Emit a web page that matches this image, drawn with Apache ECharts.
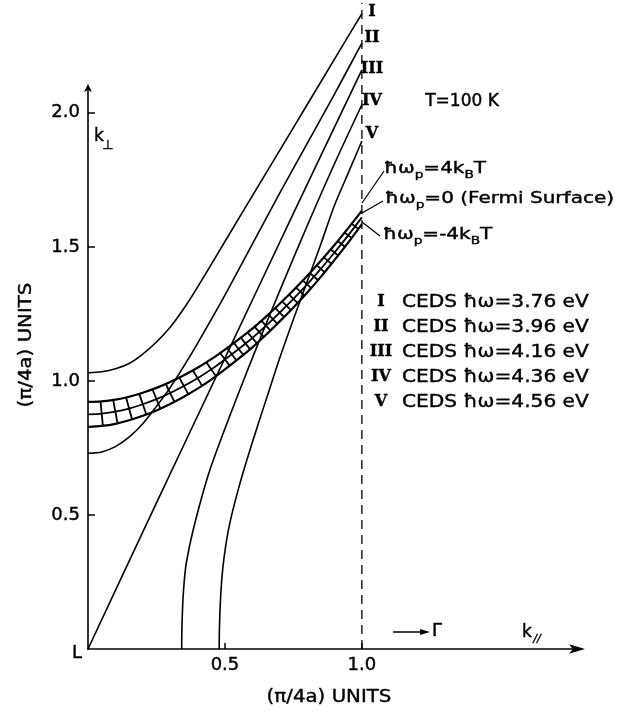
<!DOCTYPE html>
<html lang="en">
<head>
<meta charset="UTF-8">
<title>CEDS k-space contours</title>
<style>
html,body{margin:0;padding:0;background:#fff;}
#chart{width:627px;height:712px;}
</style>
</head>
<body>
<div id="chart"></div>
<script src="https://cdn.jsdelivr.net/npm/echarts@6/dist/echarts.min.js"></script>
<script>
// k_parallel, k_perp in (pi/4a) units
var curveI = [[0,1.03],[0.05,1.034],[0.1,1.045],[0.15,1.065],[0.2,1.1],[0.25,1.145],[0.3,1.2],[0.35,1.27],[0.4,1.35],[0.5,1.52],[0.6,1.69],[0.7,1.86],[0.8,2.03],[0.9,2.2],[1.0,2.37]];
var curveII = [[0,0.73],[0.05,0.735],[0.1,0.755],[0.15,0.79],[0.2,0.84],[0.25,0.905],[0.3,0.975],[0.35,1.055],[0.4,1.14],[0.5,1.32],[0.6,1.51],[0.7,1.7],[0.8,1.885],[0.9,2.07],[1.0,2.26]];
var curveIII = [[0,0],[0.25,0.545],[0.5,1.085],[0.75,1.625],[1.0,2.16]];
var curveIV = [[0.342,0],[0.343,0.08],[0.347,0.19],[0.356,0.3],[0.37,0.38],[0.384,0.444],[0.415,0.565],[0.445,0.668],[0.5,0.822],[0.55,0.955],[0.6,1.085],[0.65,1.212],[0.7,1.336],[0.8,1.578],[0.9,1.81],[1.0,2.03]];
var curveV = [[0.479,0],[0.48,0.08],[0.484,0.19],[0.492,0.3],[0.505,0.4],[0.52,0.48],[0.55,0.6],[0.58,0.705],[0.62,0.835],[0.66,0.96],[0.7,1.085],[0.75,1.23],[0.8,1.37],[0.85,1.51],[0.9,1.655],[0.95,1.775],[1.0,1.895]];

// band of hbar*omega_p = +4kT, 0, -4kT
var bandX   = [0,0.05,0.1,0.15,0.2,0.25,0.3,0.35,0.4,0.45,0.5,0.55,0.6,0.65,0.7,0.75,0.8,0.85,0.9,0.95,1.0];
var bandTop = [0.922,0.924,0.930,0.941,0.956,0.974,0.996,1.021,1.049,1.081,1.117,1.155,1.195,1.240,1.288,1.338,1.391,1.448,1.507,1.570,1.635];
var bandMid = [0.875,0.878,0.885,0.897,0.913,0.932,0.955,0.981,1.010,1.043,1.080,1.119,1.160,1.206,1.255,1.306,1.360,1.418,1.479,1.543,1.610];
var bandBot = [0.828,0.832,0.840,0.853,0.870,0.890,0.914,0.941,0.971,1.005,1.043,1.083,1.125,1.172,1.222,1.274,1.329,1.388,1.451,1.516,1.585];

var zoneEdge = [[1.0,0],[1.0,2.41]];
var xTicks = [0.5,1.0];
var yTicks = [0.5,1.0,1.5,2.0];
var numerals = ['I','II','III','IV','V'];
var photonEnergy = ['3.76','3.96','4.16','4.36','4.56'];

var chart = echarts.init(document.getElementById('chart'));
var FONT = '"DejaVu Sans", sans-serif';
var SERIF = '"DejaVu Serif", serif';

function curve(d){
	return {
		type:'line', data:d, smooth:0.3, symbol:'none', clip:false,
		lineStyle:{color:'#000', width:1.6}, silent:true, animation:false
	};
}
function bandLine(vals){
	return curve(bandX.map(function(x,i){ return [x, vals[i]]; }));
}

var series = [curve(curveI), curve(curveII), curve(curveIII), curve(curveIV), curve(curveV),
	bandLine(bandTop), bandLine(bandMid), bandLine(bandBot)];
series[5].lineStyle.width = 2.2;
series[6].lineStyle.width = 1.8;
series[7].lineStyle.width = 2.2;

// cross hatching of the band
series.push({
	type:'custom', silent:true, animation:false,
	data: bandX.map(function(x,i){ return [x, bandMid[i], i]; }),
	renderItem:function(params, api){
		var i = api.value(2), n = bandX.length;
		if (i === 0 || i === n-1) return null;
		function seg(cx, cy, tx, ty, h){
			var len = Math.sqrt(tx*tx+ty*ty); tx/=len; ty/=len;
			var nx = -ty, ny = tx;
			if (ny < 0){ nx=-nx; ny=-ny; }
			return {type:'line', shape:{x1:cx-nx*h, y1:cy-ny*h, x2:cx+nx*h, y2:cy+ny*h},
				style:{stroke:'#000', lineWidth:1.8}};
		}
		var kids = [];
		var p0 = api.coord([bandX[i-1], bandMid[i-1]]);
		var p1 = api.coord([bandX[i+1], bandMid[i+1]]);
		var c = api.coord([bandX[i], bandMid[i]]);
		var t = api.coord([bandX[i], bandTop[i]]);
		var b = api.coord([bandX[i], bandBot[i]]);
		var tx = p1[0]-p0[0], ty = p1[1]-p0[1];
		var cosA = Math.abs(tx)/Math.sqrt(tx*tx+ty*ty);
		kids.push(seg(c[0], c[1], tx, ty, (b[1]-t[1])/2*cosA));
		if (bandX[i] >= 0.5){
			var c2 = api.coord([bandX[i+1], bandMid[i+1]]);
			var t2 = api.coord([bandX[i+1], bandTop[i+1]]);
			var b2 = api.coord([bandX[i+1], bandBot[i+1]]);
			kids.push(seg((c[0]+c2[0])/2, (c[1]+c2[1])/2, c2[0]-c[0], c2[1]-c[1],
				((b[1]-t[1])+(b2[1]-t2[1]))/4*cosA));
		}
		return {type:'group', children:kids};
	}
});

// zone boundary at k_parallel = 1
series.push({
	type:'line', data:zoneEdge, symbol:'none', clip:false, silent:true, animation:false,
	lineStyle:{color:'#000', width:1.3, type:[9,6]}
});

var txt = [];
function label(x, y, text, font, opt){
	var o = {type:'text', x:x, y:y, silent:true,
		style:{text:text, font:font, fill:'#000', stroke:'#000', lineWidth:0.4,
			align:'center', verticalAlign:'middle'}};
	if (opt) for (var k in opt){ if (k === 'style') Object.assign(o.style, opt.style); else o[k] = opt[k]; }
	txt.push(o);
}
// numerals at curve ends
var endY = [12, 38, 69, 101, 134];
numerals.forEach(function(r,i){ label(372, endY[i], r, 'bold 16px ' + SERIF); });
// legend rows
var rowY = [302, 327, 352, 377, 402];
numerals.forEach(function(r,i){
	label(381, rowY[i], r, 'bold 16px ' + SERIF);
	label(402, rowY[i], 'CEDS ħω=' + photonEnergy[i] + ' eV', '18px ' + FONT,
		{scaleX:1.12, style:{align:'left'}});
});
label(462, 102, 'T=100 K', '17px ' + FONT);
var rich = {
	n:{font:'16px ' + FONT, lineHeight:24},
	s:{font:'11px ' + FONT, verticalAlign:'bottom'}
};
label(384, 169, '{n|ħω}{s|p}{n|=4k}{s|B}{n|T}', '16px ' + FONT, {scaleX:1.25, style:{align:'left', rich:rich}});
label(385, 199, '{n|ħω}{s|p}{n|=0 (Fermi Surface)}', '16px ' + FONT, {scaleX:1.25, style:{align:'left', rich:rich}});
label(383, 235, '{n|ħω}{s|p}{n|=-4k}{s|B}{n|T}', '16px ' + FONT, {scaleX:1.25, style:{align:'left', rich:rich}});
// axis annotations
label(77, 653, 'L', '18px ' + FONT);
label(99, 137, 'k', '17px ' + FONT);
label(108, 146, '⊥', '13px ' + FONT);
label(527, 633, 'k', '17px ' + FONT);
label(537, 639, '//', 'italic 11px ' + FONT);
label(437, 631, 'Γ', '18px ' + FONT);
label(329, 697, '(π/4a) UNITS', '18px ' + FONT, {scaleX:1.1});
label(26, 345, '(π/4a) UNITS', '18px ' + FONT, {scaleX:1.1, rotation:Math.PI/2});

var leaders = [[362,203,384,171],[362,213,383,201],[362,222,380,236]];
leaders.forEach(function(l){
	txt.push({type:'line', silent:true, shape:{x1:l[0],y1:l[1],x2:l[2],y2:l[3]}, style:{stroke:'#000', lineWidth:1.2}});
});
txt.push({type:'line', silent:true, shape:{x1:393,y1:632,x2:422,y2:632}, style:{stroke:'#000', lineWidth:1.5}});
txt.push({type:'polygon', silent:true, shape:{points:[[420,629],[430,632],[420,635]]}, style:{fill:'#000'}});

var tickFont = {color:'#000', fontSize:18, fontFamily:FONT, textBorderColor:'#000', textBorderWidth:0.4};
var option = {
	animation:false,
	backgroundColor:'#fff',
	grid:{left:88, right:46, top:86, bottom:63},
	xAxis:{
		type:'value', min:0, max:1.8,
		axisLine:{lineStyle:{color:'#000', width:1.6}, symbol:['none','arrow'], symbolSize:[7,16], symbolOffset:[0,4]},
		axisTick:{customValues:xTicks, inside:true, length:6, lineStyle:{color:'#000', width:1.5}},
		axisLabel:Object.assign({customValues:xTicks, formatter:function(v){ return v.toFixed(1); }, margin:7}, tickFont),
		splitLine:{show:false}
	},
	yAxis:{
		type:'value', min:0, max:2.1,
		axisLine:{lineStyle:{color:'#000', width:1.6}, symbol:['none','arrow'], symbolSize:[6,8], symbolOffset:[0,2]},
		axisTick:{customValues:yTicks, inside:true, length:7, lineStyle:{color:'#000', width:1.5}},
		axisLabel:Object.assign({customValues:yTicks, formatter:function(v){ return v.toFixed(1); }, margin:8}, tickFont),
		splitLine:{show:false}
	},
	series:series,
	graphic:txt
};
chart.setOption(option);
</script>
</body>
</html>
